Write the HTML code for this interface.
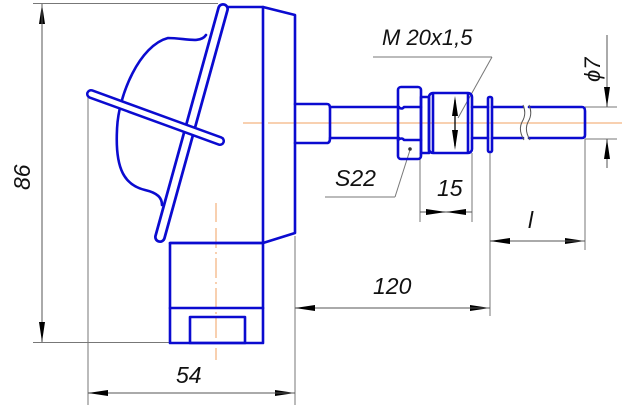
<!DOCTYPE html>
<html><head><meta charset="utf-8"><style>
html,body{margin:0;padding:0;background:#fff;}
svg{display:block;}
text{font-family:"Liberation Sans",sans-serif;font-style:italic;fill:#111;}
</style></head><body>
<svg width="622" height="406" viewBox="0 0 622 406" xmlns="http://www.w3.org/2000/svg">
<defs>
<marker id="a" viewBox="0 0 20 6" refX="20" refY="3" markerWidth="20" markerHeight="6" markerUnits="userSpaceOnUse" orient="auto"><path d="M0,0 L20,3 L0,6 Z" fill="#000"/></marker>
</defs>
<!-- centerlines -->
<g stroke="#f0a060" stroke-width="1" fill="none">
<line x1="243" y1="123" x2="262" y2="123"/>
<line x1="268" y1="123" x2="622" y2="123"/>
<line x1="216" y1="203" x2="216" y2="222" />
<line x1="216" y1="228" x2="216" y2="360" stroke-dasharray="20,4,2,4"/>
</g>
<!-- dimension lines gray -->
<g stroke="#777" stroke-width="1" fill="none">
<line x1="33" y1="3.5" x2="218" y2="3.5"/>
<line x1="33" y1="342.5" x2="170" y2="342.5"/>
<line x1="88" y1="95" x2="88" y2="405"/>
<line x1="295" y1="236" x2="295" y2="405"/>
<line x1="420" y1="153" x2="420" y2="222"/>
<line x1="472" y1="153" x2="472" y2="222"/>
<line x1="490" y1="153" x2="490" y2="316"/>
<line x1="585" y1="139" x2="585" y2="250"/>
<line x1="585" y1="107" x2="617" y2="107"/>
<line x1="585" y1="139" x2="617" y2="139"/>
<line x1="373" y1="57" x2="492" y2="57"/>
<line x1="492" y1="57" x2="458" y2="118"/>
<line x1="325" y1="197" x2="395" y2="197"/>
<line x1="395" y1="197" x2="410" y2="150"/>
</g>
<g stroke="#555" stroke-width="1" fill="none">
<line x1="42" y1="342" x2="42" y2="4" marker-end="url(#a)"/>
<line x1="42" y1="4" x2="42" y2="342" marker-end="url(#a)"/>
<line x1="88" y1="393" x2="295" y2="393" marker-end="url(#a)"/>
<line x1="295" y1="393" x2="88" y2="393" marker-end="url(#a)"/>
<line x1="295" y1="308" x2="490" y2="308" marker-end="url(#a)"/>
<line x1="490" y1="308" x2="295" y2="308" marker-end="url(#a)"/>
<line x1="490" y1="241" x2="585" y2="241" marker-end="url(#a)"/>
<line x1="585" y1="241" x2="490" y2="241" marker-end="url(#a)"/>
<line x1="420" y1="212" x2="446" y2="212" marker-end="url(#a)"/>
<line x1="472" y1="212" x2="446" y2="212" marker-end="url(#a)"/>
<line x1="607" y1="35" x2="607" y2="107" marker-end="url(#a)"/>
<line x1="607" y1="168" x2="607" y2="139" marker-end="url(#a)"/>
</g>
<!-- blue part -->
<g stroke="#0b0bd0" stroke-width="2.6" fill="none" stroke-linejoin="round" stroke-linecap="round">
<path d="M227,7 L263,7 L295,15 L295,233 L263,243 L170,243"/>
<line x1="263" y1="7" x2="263" y2="243"/>
<path d="M206,35 C200,44 185,38 168,38 C140,45 118,95 117,130 C115,170 125,185 145,190 C158,193 162,198 162,205"/>
<rect x="170" y="243" width="93" height="100"/>
<line x1="170" y1="308" x2="263" y2="308"/>
<rect x="190" y="317" width="55" height="26"/>
<!-- stem -->
<path d="M295,104 L327,104 Q330,104 330,108 L330,138 Q330,143 327,143 L295,143"/>
<path d="M330,107 L399,107 M330,138 L399,138"/>
<rect x="398" y="87" width="23" height="72" rx="3"/>
<path d="M398,107 Q402,110 404,107 L421,107 M398,140 Q402,137 404,140 L421,140"/>
<rect x="421" y="97" width="8" height="56"/>
<rect x="429" y="93" width="43" height="60" rx="4"/>
<line x1="433" y1="94" x2="433" y2="152"/>
<line x1="468" y1="94" x2="468" y2="152"/>
<path d="M472,107 L488,107 M472,138 L488,138"/>
<rect x="488" y="97" width="4" height="55" rx="1.5"/>
<path d="M492,107 L523,107 M492,138 L523,138 M529,107 L582,107 Q585,107 585,111 L585,135 Q585,138 582,138 L529,138"/>
</g>
<!-- lid strip and handle (thick outlined bars) -->
<g fill="none" stroke-linecap="round">
<line x1="223" y1="9" x2="160" y2="237" stroke="#0b0bd0" stroke-width="12"/>
<line x1="223" y1="9" x2="160" y2="237" stroke="#fff" stroke-width="6.5"/>
<line x1="91" y1="94" x2="220" y2="141" stroke="#0b0bd0" stroke-width="10"/>
<line x1="91" y1="94" x2="220" y2="141" stroke="#fff" stroke-width="5"/>
</g>
<g stroke="#555" stroke-width="1" fill="none">
<path d="M523,105 Q527,114 522,122 Q518,130 524,140"/>
<path d="M529,105 Q533,114 528,122 Q524,130 530,140"/>
</g>
<g stroke="#000" stroke-width="1.3">
<line x1="455" y1="100" x2="455" y2="146"/>
</g>
<path d="M455,96 L452,116 L458,116 Z M455,150 L452,130 L458,130 Z" fill="#000"/>
<circle cx="410" cy="149" r="1.8" fill="#333"/>
<!-- text -->
<text x="382" y="45" font-size="22">M 20x1,5</text>
<text x="335" y="186" font-size="23">S22</text>
<text x="437" y="196" font-size="23">15</text>
<text x="528" y="228" font-size="23">l</text>
<text x="373" y="294" font-size="23">120</text>
<text x="176" y="383" font-size="23">54</text>
<text font-size="23" transform="translate(30,190) rotate(-90)">86</text>
<text font-size="22" transform="translate(600,82) rotate(-90)">ϕ7</text>
</svg>
</body></html>
